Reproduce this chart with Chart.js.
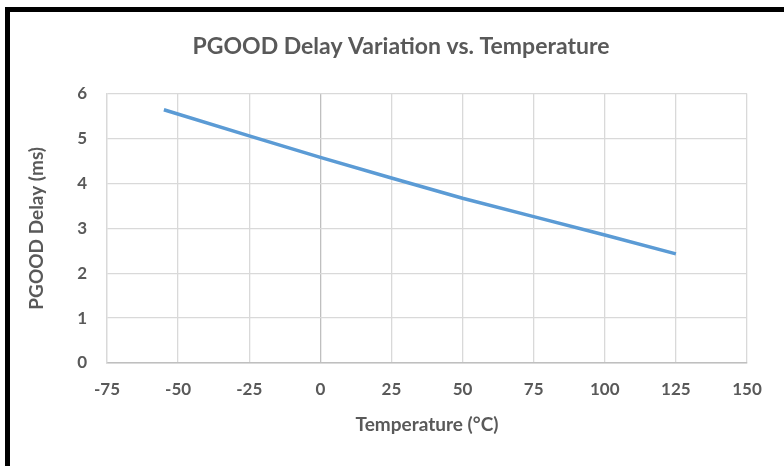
<!DOCTYPE html>
<html>
<head>
<meta charset="utf-8">
<script src="https://cdn.jsdelivr.net/npm/chart.js@4"></script>
<style>
  html, body { margin: 0; padding: 0; background: #fff; overflow: hidden; }
  #wrap { position: relative; width: 784px; height: 466px; }
  #frame { position: absolute; left: 5px; top: 7px; width: 900px; height: 600px;
           border: 5px solid #000; pointer-events: none; }
  canvas { position: absolute; left: 0; top: 0; }
</style>
</head>
<body>
<div id="wrap">
  <canvas id="myChart" width="784" height="466"></canvas>
  <div id="frame"></div>
</div>
<script>
// data
const temps = [-55, -25, 0, 25, 50, 75, 100, 125];
const delays = [5.64, 5.06, 4.58, 4.12, 3.67, 3.26, 2.85, 2.43];
const xTicks = [-75, 150, 25];   // min, max, step
const yTicks = [0, 6, 1];

const gray = '#595959';
const font = 'Lato, "Open Sans", sans-serif';

var ctx = document.getElementById('myChart').getContext('2d');
var myChart = new Chart(ctx, {
  type: 'scatter',
  data: {
    datasets: [{
      data: temps.map((t, i) => ({ x: t, y: delays[i] })),
      showLine: true,
      borderColor: '#5b9bd5',
      backgroundColor: '#5b9bd5',
      borderWidth: 3.5,
      pointRadius: 0,
      tension: 0
    }]
  },
  options: {
    responsive: false,
    animation: false,
    layout: { padding: { left: 55, right: 37, top: 0, bottom: 0 } },
    plugins: {
      legend: { display: false },
      tooltip: { enabled: false },
      title: {
        display: true,
        text: 'PGOOD Delay Variation vs. Temperature',
        color: gray,
        font: { family: font, size: 23, weight: 'bold' },
        padding: { top: 33, bottom: 33 }
      }
    },
    scales: {
      x: {
        type: 'linear',
        min: xTicks[0], max: xTicks[1],
        afterFit: (s) => { s.height = 103; },
        ticks: { stepSize: xTicks[2], color: gray, padding: 16,
                 font: { family: font, size: 17, weight: 'bold' } },
        grid: { drawTicks: false, lineWidth: 1.3,
                color: (c) => (c.tick && c.tick.value === 0) ? '#bfbfbf' : '#d9d9d9' },
        border: { color: '#bfbfbf', width: 1.5 },
        title: { display: true, text: 'Temperature (°C)', color: gray,
                 font: { family: font, size: 19, weight: 'bold' },
                 padding: { top: 4, bottom: 30 } }
      },
      y: {
        min: yTicks[0], max: yTicks[1],
        afterFit: (s) => { s.width = 52; },
        ticks: { stepSize: yTicks[2], color: gray, padding: 20,
                 font: { family: font, size: 17, weight: 'bold' } },
        grid: { drawTicks: false, lineWidth: 1.3, color: '#d9d9d9' },
        border: { color: '#d9d9d9', width: 1.3 },
        title: { display: true, text: 'PGOOD Delay (ms)', color: gray,
                 font: { family: font, size: 19, weight: 'bold' },
                 padding: { top: -30, bottom: 0 } }
      }
    }
  }
});
</script>
</body>
</html>
